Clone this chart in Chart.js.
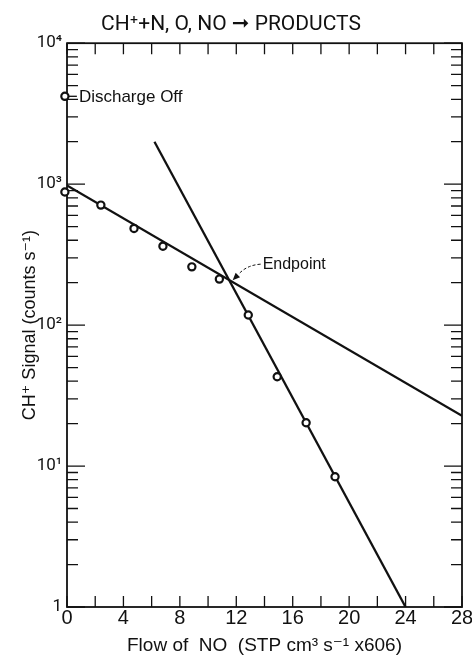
<!DOCTYPE html>
<html><head><meta charset="utf-8">
<script src="https://cdn.jsdelivr.net/npm/chart.js@4"></script>
<style>html,body{margin:0;padding:0;background:#fff}</style>
</head><body>
<canvas id="c" width="472" height="660"></canvas>
<script>
const titleText = 'CH⁺+N, O, NO ➞ PRODUCTS';
const xAxisTitle = 'Flow of  NO  (STP cm³ s⁻¹ x606)';
const yAxisTitle = 'CH⁺ Signal (counts s⁻¹)';
const dischargeLabel = 'Discharge Off';
const endpointLabel = 'Endpoint';

const dischargeOffX = [-0.15];
const dischargeOffY = [4200];
const flowNO = [-0.15, 2.4, 4.75, 6.8, 8.85, 10.8, 12.85, 14.9, 16.95, 19.0];
const signal = [880, 710, 485, 363, 259, 212, 118, 43, 20.3, 8.4];
const slowFitX = [0, 28];
const slowFitY = [980, 22.7];
const fastFitX = [6.2, 24];
const fastFitY = [2000, 1];
const endpointX = [11.6];
const endpointY = [205];

const xMin = 0, xMax = 28, xLabelStep = 4;
const xTickMarkValues = [0, 2, 4, 6, 8, 10, 12, 14, 16, 18, 20, 22, 24, 26, 28];
const yMin = 1, yMax = 10000;
const yMajorValues = [1, 10, 100, 1000, 10000];
const yMajorLabels = ['1', '10¹', '10²', '10³', '10⁴'];
const yMinorMultipliers = [2, 3, 4, 5, 6, 7, 8, 9];

const ink = '#111';
const sans = '"Liberation Sans", "DejaVu Sans", sans-serif';
const titleFont = 'Roboto, "Liberation Sans", "DejaVu Sans", sans-serif';

const toXY = (xs, ys) => xs.map((v, i) => ({x: v, y: ys[i]}));

const frameTicks = {
  id: 'frameTicks',
  beforeDatasetsDraw(chart) {
    const {ctx, chartArea: a, scales: {x, y}} = chart;
    ctx.save();
    ctx.strokeStyle = ink;
    ctx.lineWidth = 1.3;
    ctx.beginPath();
    xTickMarkValues.forEach(v => {
      const px = x.getPixelForValue(v);
      ctx.moveTo(px, a.bottom); ctx.lineTo(px, a.bottom - 11);
      ctx.moveTo(px, a.top); ctx.lineTo(px, a.top + 11);
    });
    yMajorValues.forEach((d, i) => {
      const py = y.getPixelForValue(d);
      ctx.moveTo(a.left, py); ctx.lineTo(a.left + 18, py);
      ctx.moveTo(a.right, py); ctx.lineTo(a.right - 18, py);
      if (i < yMajorValues.length - 1) {
        yMinorMultipliers.forEach(m => {
          const pm = y.getPixelForValue(d * m);
          ctx.moveTo(a.left, pm); ctx.lineTo(a.left + 11, pm);
          ctx.moveTo(a.right, pm); ctx.lineTo(a.right - 11, pm);
        });
      }
    });
    ctx.stroke();
    ctx.lineWidth = 1.8;
    ctx.strokeRect(a.left, a.top, a.right - a.left, a.bottom - a.top);
    ctx.restore();
  }
};

const annot = {
  id: 'annot',
  afterDatasetsDraw(chart) {
    const {ctx, scales: {x, y}} = chart;
    ctx.save();
    ctx.strokeStyle = ink; ctx.fillStyle = ink; ctx.lineWidth = 1.3;
    const px = x.getPixelForValue(dischargeOffX[0]), py = y.getPixelForValue(dischargeOffY[0]);
    ctx.beginPath(); ctx.moveTo(px + 4, py); ctx.lineTo(px + 12, py); ctx.stroke();
    ctx.font = '17px ' + sans;
    ctx.textBaseline = 'middle'; ctx.textAlign = 'left';
    ctx.fillText(dischargeLabel, px + 14, py + 1);

    ctx.font = '16px ' + sans;
    const ex = x.getPixelForValue(endpointX[0]), ey = y.getPixelForValue(endpointY[0]);
    ctx.fillText(endpointLabel, ex + 32, ey - 17);
    ctx.setLineDash([3, 2]);
    ctx.lineWidth = 1;
    ctx.beginPath(); ctx.moveTo(ex + 30, ey - 17);
    ctx.quadraticCurveTo(ex + 16, ey - 16, ex + 8, ey - 7);
    ctx.stroke();
    ctx.setLineDash([]);
    const tx = ex + 2, ty = ey - 1, bx = ex + 9, by = ey - 8;
    const ang = Math.atan2(ty - by, tx - bx);
    ctx.beginPath();
    ctx.moveTo(tx, ty);
    ctx.lineTo(tx - 8 * Math.cos(ang - 0.4), ty - 8 * Math.sin(ang - 0.4));
    ctx.lineTo(tx - 8 * Math.cos(ang + 0.4), ty - 8 * Math.sin(ang + 0.4));
    ctx.closePath(); ctx.fill();
    ctx.restore();
  }
};

new Chart(document.getElementById('c'), {
  type: 'scatter',
  data: {
    datasets: [
      {data: toXY(slowFitX, slowFitY), showLine: true, borderColor: ink, borderWidth: 2.3, pointRadius: 0, order: 3},
      {data: toXY(fastFitX, fastFitY), showLine: true, borderColor: ink, borderWidth: 2.3, pointRadius: 0, order: 2},
      {data: toXY(flowNO, signal), borderColor: ink, backgroundColor: '#fff', pointRadius: 3.6, pointBorderWidth: 2.2, clip: false, order: 1},
      {data: toXY(dischargeOffX, dischargeOffY), borderColor: ink, backgroundColor: '#fff', pointRadius: 3.6, pointBorderWidth: 2.2, clip: false, order: 0}
    ]
  },
  options: {
    responsive: false,
    animation: false,
    layout: {padding: {left: 0, right: 10, top: 0, bottom: 0}},
    plugins: {
      legend: {display: false},
      tooltip: {enabled: false},
      title: {display: true, text: titleText, color: ink, font: {family: titleFont, size: 21, weight: 'normal', lineHeight: 1.2}, padding: {top: 12, bottom: 6}}
    },
    scales: {
      x: {
        type: 'linear', min: xMin, max: xMax,
        grid: {display: true, drawOnChartArea: false, drawTicks: false},
        border: {display: false},
        ticks: {stepSize: xLabelStep, color: ink, padding: 1, font: {family: sans, size: 20, lineHeight: 1}, maxRotation: 0},
        title: {display: true, text: xAxisTitle, color: ink, font: {family: sans, size: 19, lineHeight: 1.2}, padding: {top: 0, bottom: 3}},
        afterFit(s) { s.height = 53; s.paddingLeft = 0; s.paddingRight = 0; }
      },
      y: {
        type: 'logarithmic', min: yMin, max: yMax,
        grid: {display: true, drawOnChartArea: false, drawTicks: false},
        border: {display: false},
        ticks: {
          autoSkip: false, color: ink, padding: 5, font: {family: titleFont, size: 17},
          callback(v) { const i = yMajorValues.indexOf(v); return i >= 0 ? yMajorLabels[i] : ''; }
        },
        title: {display: true, text: yAxisTitle, color: ink, font: {family: sans, size: 18, lineHeight: 1.2}, padding: {top: 19, bottom: 0}},
        afterFit(s) { s.width = 67; s.paddingTop = 0; s.paddingBottom = 0; }
      }
    }
  },
  plugins: [frameTicks, annot]
});
</script>
</body></html>
